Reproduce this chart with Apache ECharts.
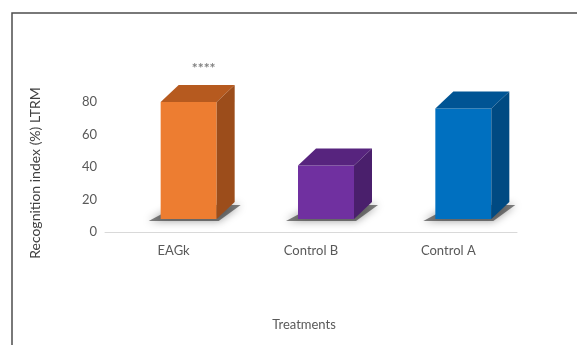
<!DOCTYPE html>
<html>
<head>
<meta charset="utf-8">
<script src="https://cdn.jsdelivr.net/npm/echarts@6/dist/echarts.min.js"></script>
<style>html,body{margin:0;padding:0;background:#fff}#c{width:577px;height:345px}</style>
</head>
<body>
<div id="c"></div>
<script>
const categories = ["EAGk", "Control B", "Control A"];
const values = [80, 41, 76];
const annotations = ["****", "", ""];
const yTicks = [0, 20, 40, 60, 80];
const frontColors = ["#ED7D31", "#7030A0", "#0070C0"];
const topColors = ["#B65A1F", "#57247E", "#005494"];
const sideColors = ["#9C4D1B", "#4A1F6C", "#004A82"];

const chart = echarts.init(document.getElementById('c'), null, {renderer: 'canvas'});
const font = 'Lato, "Open Sans", sans-serif';

function renderItem(params, api) {
  const i = api.value(0), v = api.value(1);
  const c = api.coord([i, v]);
  const c0 = api.coord([i, 0]);
  const w = 56, dx = 18, dy = -17;
  const cx = c[0] + 15;
  const x0 = cx - w / 2, x1 = cx + w / 2;
  const yt = c[1], yb = c0[1] - 13;
  const idx = params.dataIndex;
  const children = [
    {type: 'polygon', shape: {points: [[x0 - 12, yb + 2], [x1 + 2, yb + 2], [x1 + dx + 6, yb + dy + 3], [x0 + dx, yb + dy + 3]]},
     style: {fill: 'rgba(30,30,30,0.55)', shadowBlur: 9, shadowColor: 'rgba(0,0,0,0.7)'}},
    {type: 'rect', shape: {x: x0, y: yt, width: w, height: yb - yt}, style: {fill: frontColors[idx]}},
    {type: 'polygon', shape: {points: [[x0, yt], [x1, yt], [x1 + dx, yt + dy], [x0 + dx, yt + dy]]}, style: {fill: topColors[idx]}},
    {type: 'polygon', shape: {points: [[x1, yt], [x1 + dx, yt + dy], [x1 + dx, yb + dy], [x1, yb]]}, style: {fill: sideColors[idx]}}
  ];
  if (annotations[idx]) {
    children.push({type: 'text', style: {text: annotations[idx], x: cx + 15, y: yt - 34, align: 'center', verticalAlign: 'middle',
      fill: '#7F7F7F', font: 'bold 14px ' + font}});
  }
  return {type: 'group', children: children};
}

chart.setOption({
  animation: false,
  backgroundColor: '#fff',
  grid: {left: 105, right: 60, top: 102, bottom: 113},
  xAxis: {
    type: 'category', data: categories,
    axisLine: {lineStyle: {color: '#D9D9D9', width: 1}},
    axisTick: {show: false},
    axisLabel: {color: '#595959', fontFamily: font, fontSize: 13, margin: 12}
  },
  yAxis: {
    type: 'value', min: yTicks[0], max: yTicks[yTicks.length - 1], interval: 20,
    axisLine: {show: false}, axisTick: {show: false}, splitLine: {show: false},
    axisLabel: {color: '#595959', fontFamily: font, fontSize: 13, margin: 8},
    name: 'Recognition index (%) LTRM', nameLocation: 'middle', nameRotate: 90, nameGap: 63,
    nameTextStyle: {color: '#404040', fontFamily: font, fontSize: 14, padding: [0, 12, 0, 0]}
  },
  graphic: [
    {type: 'rect', shape: {x: 12, y: 13, width: 700, height: 500}, style: {fill: 'none', stroke: '#4D4D4D', lineWidth: 1.5}, z: 10},
    {type: 'text', style: {text: 'Treatments', x: 304, y: 325, align: 'center', verticalAlign: 'middle', fill: '#595959', font: '13px ' + font}}
  ],
  series: [{
    type: 'custom', renderItem: renderItem,
    data: values.map((v, i) => [i, v])
  }]
});
</script>
</body>
</html>
